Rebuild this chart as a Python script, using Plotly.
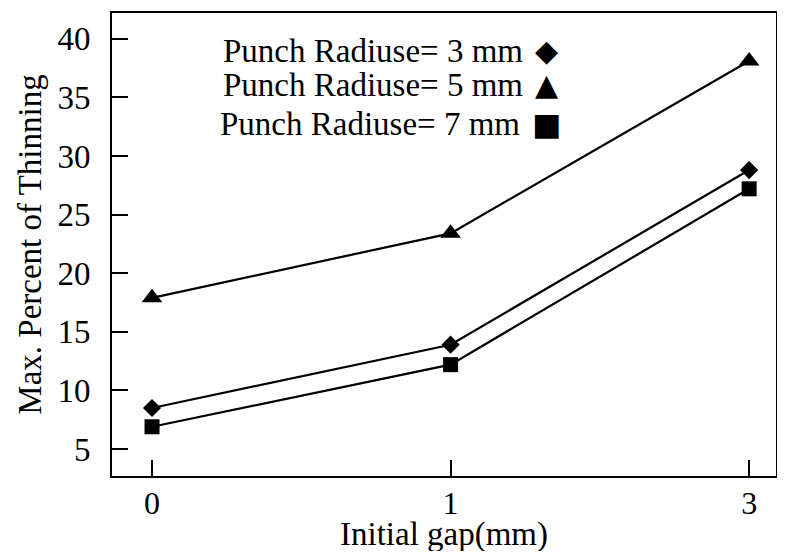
import plotly.graph_objects as go

# Initial gap categories (mm) and max. thinning (%) for each punch radius
gaps = ["0", "1", "3"]
radius_3 = [8.5, 13.9, 28.8]
radius_5 = [17.9, 23.4, 38.1]
radius_7 = [6.9, 12.2, 27.2]

series_names = ["Punch Radiuse= 3 mm", "Punch Radiuse= 5 mm", "Punch Radiuse= 7 mm"]
series_symbols = ["diamond", "triangle-up", "square"]
legend_glyphs = ["\u25C6", "\u25B2", "\u25A0"]

FONT = "Liberation Serif, Times New Roman, serif"

fig = go.Figure()

for name, values, sym, size in zip(series_names, [radius_3, radius_5, radius_7],
                                   series_symbols, [14, 18, 15]):
    fig.add_trace(go.Scatter(
        x=gaps,
        y=values,
        name=name,
        mode="lines+markers",
        line=dict(color="black", width=2.2),
        marker=dict(symbol=sym, size=size, color="black"),
        showlegend=False
    ))

# legend: text with the marker glyph on its right, as in the original figure
legend_y = [0.919, 0.8445, 0.760]
legend_text_x = [0.622, 0.622, 0.6175]
glyph_sizes = [30, 30, 31]
for name, glyph, ly, lx, gs in zip(series_names, legend_glyphs, legend_y, legend_text_x, glyph_sizes):
    fig.add_annotation(
        x=lx, y=ly, xref="paper", yref="paper",
        text=name, showarrow=False, xanchor="right", yanchor="middle",
        font=dict(family=FONT, size=33, color="black")
    )
    fig.add_annotation(
        x=0.655, y=ly, xref="paper", yref="paper",
        text=glyph, showarrow=False, xanchor="center", yanchor="middle",
        font=dict(family="DejaVu Sans", size=gs, color="black")
    )

# x axis title placed low, close to the bottom edge like the original
fig.add_annotation(
    x=0.5, y=-0.127, xref="paper", yref="paper",
    text="Initial gap(mm)", showarrow=False, xanchor="center", yanchor="middle",
    font=dict(family=FONT, size=33, color="black")
)

# page body adds an 8px margin, so the figure is sized to fit the window
fig.update_layout(
    width=769,
    height=543,
    margin=dict(l=104, r=1, t=5, b=75),
    plot_bgcolor="white",
    paper_bgcolor="white",
    font=dict(family=FONT, size=33, color="black"),
    showlegend=False
)

fig.update_xaxes(
    type="category",
    range=[-0.134, 2.09],
    showgrid=False,
    zeroline=False,
    showline=True,
    linecolor="black",
    linewidth=2,
    mirror=True,
    ticks="inside",
    ticklen=16,
    tickwidth=2,
    tickcolor="black",
    tickfont=dict(size=32),
    ticklabelstandoff=-2,
    automargin=False
)

fig.update_yaxes(
    range=[2.7, 42.2],
    tickvals=[5, 10, 15, 20, 25, 30, 35, 40],
    showgrid=False,
    zeroline=False,
    showline=True,
    linecolor="black",
    linewidth=2,
    mirror=True,
    ticks="inside",
    ticklen=16,
    tickwidth=2,
    tickcolor="black",
    ticklabelstandoff=13,
    automargin=False,
    title=dict(text="Max. Percent of Thinning", standoff=6, font=dict(family=FONT, size=33))
)

fig.write_html("out.html")
